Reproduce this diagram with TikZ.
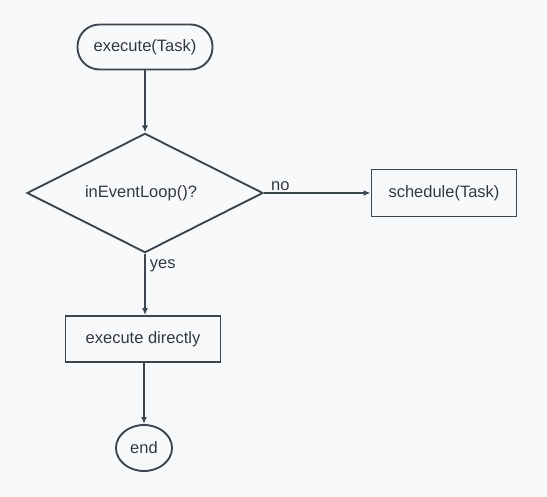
\documentclass[tikz,border=0pt]{standalone}
\usepackage{fontspec}
\setmainfont{Liberation Sans}
\usepackage{tikz}
\usetikzlibrary{shapes.geometric,arrows.meta}
\definecolor{bgcol}{RGB}{248,249,251}
\definecolor{linecol}{RGB}{62,70,80}
\definecolor{textcol}{RGB}{52,58,66}

\begin{document}
\begin{tikzpicture}[x=1pt, y=-1pt, every node/.style={draw=linecol, line width=1.9pt, text=textcol, font=\fontsize{16.5}{20}\selectfont, fill=bgcol}, flow/.style={draw=linecol, line width=1.9pt, -{Latex[length=7pt,width=6pt]}}, edgelabel/.style={draw=none, fill=none, inner sep=1pt}]
% Background
\fill[bgcol] (0,0) rectangle (547,497);
\useasboundingbox (0,0) rectangle (547,497);

% Points
\node[rounded corners=22pt, minimum width=135pt, minimum height=45pt] (exec) at (145,47) {execute(Task)};
\node[diamond, minimum width=236pt, minimum height=117pt, inner sep=0pt] (loop) at (145,193) {\hspace*{-8pt}inEventLoop()?};
\node[rectangle, minimum width=145pt, minimum height=47pt] (sched) at (444,193) {schedule(Task)};
\node[rectangle, minimum width=155pt, minimum height=46pt] (direct) at (143,339) {execute directly};
\node[ellipse, minimum width=56pt, minimum height=46pt, inner sep=0pt] (stop) at (144,448) {end};

%Lines
\draw[flow] (exec) -- (loop);
\draw[flow] (loop.east) -- node[edgelabel, pos=0.05, anchor=south west] {no} (sched);
\draw[flow] (loop.south) -- node[edgelabel, pos=0.06, anchor=north west, xshift=3pt] {yes} (loop.south |- direct.north);
\draw[flow] (direct.south -| stop.north) -- (stop);
\end{tikzpicture}
\end{document}
